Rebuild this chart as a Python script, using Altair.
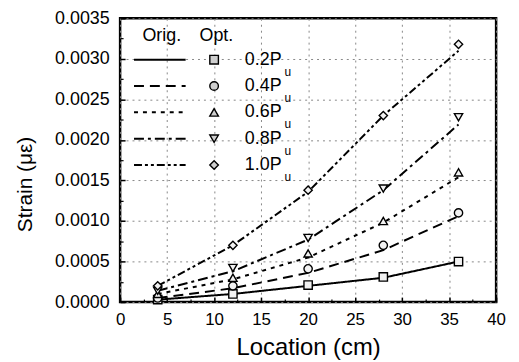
import altair as alt
import pandas as pd

# ---------------- data ----------------
locations = [4, 12, 20, 28, 36]
series = ["0.2P", "0.4P", "0.6P", "0.8P", "1.0P"]

orig_02 = [0.00003, 0.00010, 0.00020, 0.00030, 0.00050]
orig_04 = [0.00005, 0.00017, 0.00036, 0.00064, 0.00106]
orig_06 = [0.00010, 0.00028, 0.00055, 0.00098, 0.00154]
orig_08 = [0.00014, 0.00038, 0.00077, 0.00138, 0.00219]
orig_10 = [0.00020, 0.00070, 0.00136, 0.00230, 0.00310]

opt_02 = [0.00003, 0.00010, 0.00021, 0.00031, 0.00050]
opt_04 = [0.00005, 0.00020, 0.00041, 0.00070, 0.00110]
opt_06 = [0.00010, 0.00030, 0.00060, 0.00100, 0.00160]
opt_08 = [0.00014, 0.00042, 0.00079, 0.00140, 0.00228]
opt_10 = [0.00020, 0.00070, 0.00138, 0.00230, 0.00318]

x_ticks = [0, 5, 10, 15, 20, 25, 30, 35, 40]
x_minor = [2.5, 7.5, 12.5, 17.5, 22.5, 27.5, 32.5, 37.5]
y_ticks = [0, 0.0005, 0.0010, 0.0015, 0.0020, 0.0025, 0.0030, 0.0035]
y_minor = [0.00025, 0.00075, 0.00125, 0.00175, 0.00225, 0.00275, 0.00325]

orig_all = [orig_02, orig_04, orig_06, orig_08, orig_10]
opt_all = [opt_02, opt_04, opt_06, opt_08, opt_10]

rows = []
for s, o, p in zip(series, orig_all, opt_all):
    for x, vo, vp in zip(locations, o, p):
        rows.append({"series": s, "loc": x, "orig": vo, "opt": vp})
df = pd.DataFrame(rows)

# legend layout (inside the plot, upper-left)
leg_top = 0.00299
leg_step = 0.000325
leg = pd.DataFrame({
    "series": series,
    "ly": [leg_top - i * leg_step for i in range(len(series))],
    "lx1": 1.48, "lx2": 6.97, "lm": 10.0, "lt": 13.27,
})
leg["sub"] = "u"
hdr = pd.DataFrame({"txt": ["Orig.", "Opt."], "hx": [4.43, 10.24], "hy": [0.00328, 0.00328]})

FONT = "Liberation Sans"
dash_scale = alt.Scale(domain=series,
                       range=[[1, 0], [10, 6], [4, 5], [10, 4, 3, 4], [8, 3, 3, 3, 3, 3]])
shape_scale = alt.Scale(domain=series,
                        range=["square", "circle", "triangle-up", "triangle-down", "diamond"])
xs = alt.Scale(domain=[0, 40], nice=False, zero=False)
ys = alt.Scale(domain=[0, 0.0035], nice=False)

main_x = alt.Axis(values=x_ticks, format="d", title="Location (cm)", orient="bottom",
                  ticks=False, tickSize=0, domain=False, grid=True,
                  gridDash=[2, 4], gridColor="#888888", gridWidth=1,
                  labelPadding=10, labelFontSize=17, labelColor="black", labelFont=FONT,
                  titleFontSize=24, titleFont=FONT, titleFontWeight="normal", titleColor="black",
                  titleY=53, titleBaseline="alphabetic", labelFlush=False)
main_y = alt.Axis(values=y_ticks, format=".4f", title="Strain (με)", orient="left",
                  ticks=False, tickSize=0, domain=False, grid=True,
                  gridDash=[2, 4], gridColor="#888888", gridWidth=1,
                  labelPadding=11, labelFontSize=18, labelColor="black", labelFont=FONT,
                  titleFontSize=21, titleFont=FONT, titleFontWeight="normal", titleColor="black",
                  titleX=-89, titleY=167, titleAngle=270, titleBaseline="alphabetic",
                  titleAlign="center", labelFlush=False)
major_x = alt.Axis(values=x_ticks, labels=False, domain=False, grid=False, ticks=True,
                   tickSize=5, offset=-5, title=None, orient="bottom",
                   tickColor="black", tickWidth=1.5)
major_y = alt.Axis(values=y_ticks, labels=False, domain=False, grid=False, ticks=True,
                   tickSize=5, offset=-5, title=None, orient="left",
                   tickColor="black", tickWidth=1.5)
minor_x = alt.Axis(values=x_minor, labels=False, domain=False, grid=False, ticks=True,
                   tickSize=3, offset=-3, title=None, orient="bottom",
                   tickColor="black", tickWidth=1.2)
minor_y = alt.Axis(values=y_minor, labels=False, domain=False, grid=False, ticks=True,
                   tickSize=3, offset=-3, title=None, orient="left",
                   tickColor="black", tickWidth=1.2)

lines = alt.Chart(df).mark_line(color="black", strokeWidth=2).encode(
    x=alt.X("loc:Q", scale=xs, axis=main_x),
    y=alt.Y("orig:Q", scale=ys, axis=main_y),
    strokeDash=alt.StrokeDash("series:N", scale=dash_scale, legend=None),
    detail="series:N",
)

points = alt.Chart(df).mark_point(filled=False, fill="#f2f2f2", fillOpacity=1,
                                  stroke="black", strokeWidth=1.4, size=70, opacity=1).encode(
    x=alt.X("loc:Q", scale=xs, axis=major_x),
    y=alt.Y("opt:Q", scale=ys, axis=major_y),
    shape=alt.Shape("series:N", scale=shape_scale, legend=None),
)

leg_lines = alt.Chart(leg).mark_rule(color="black", strokeWidth=2).encode(
    x=alt.X("lx1:Q", scale=xs, axis=minor_x),
    x2="lx2:Q",
    y=alt.Y("ly:Q", scale=ys, axis=minor_y),
    strokeDash=alt.StrokeDash("series:N", scale=dash_scale, legend=None),
)

leg_pts = alt.Chart(leg).mark_point(filled=False, fill="#cfcfcf", fillOpacity=1,
                                    stroke="black", strokeWidth=1.4, size=75, opacity=1).encode(
    x=alt.X("lm:Q", scale=xs, axis=None),
    y=alt.Y("ly:Q", scale=ys, axis=None),
    shape=alt.Shape("series:N", scale=shape_scale, legend=None),
)

leg_txt = alt.Chart(leg).mark_text(align="left", baseline="middle", font=FONT,
                                   fontSize=18, color="black", fill="black").encode(
    x=alt.X("lt:Q", scale=xs, axis=None),
    y=alt.Y("ly:Q", scale=ys, axis=None),
    text="series:N",
)

leg_sub = alt.Chart(leg).mark_text(align="left", baseline="middle", font=FONT,
                                   fontSize=12, color="black", fill="black",
                                   dx=40, dy=12).encode(
    x=alt.X("lt:Q", scale=xs, axis=None),
    y=alt.Y("ly:Q", scale=ys, axis=None),
    text="sub:N",
)

headers = alt.Chart(hdr).mark_text(align="center", baseline="middle", font=FONT,
                                   fontSize=18, color="black", fill="black").encode(
    x=alt.X("hx:Q", scale=xs, axis=None),
    y=alt.Y("hy:Q", scale=ys, axis=None),
    text="txt:N",
)

chart = alt.layer(lines, points, leg_lines, leg_pts, leg_txt, leg_sub, headers).resolve_axis(
    x="independent", y="independent"
).properties(
    width=379, height=286,
    padding={"left": 113, "top": 9, "right": 15, "bottom": 59},
    autosize=alt.AutoSizeParams(type="none"),
    background="white",
).configure_view(stroke="black", strokeWidth=2.5)

chart.save("out.html", embed_options={"renderer": "svg", "actions": False})
